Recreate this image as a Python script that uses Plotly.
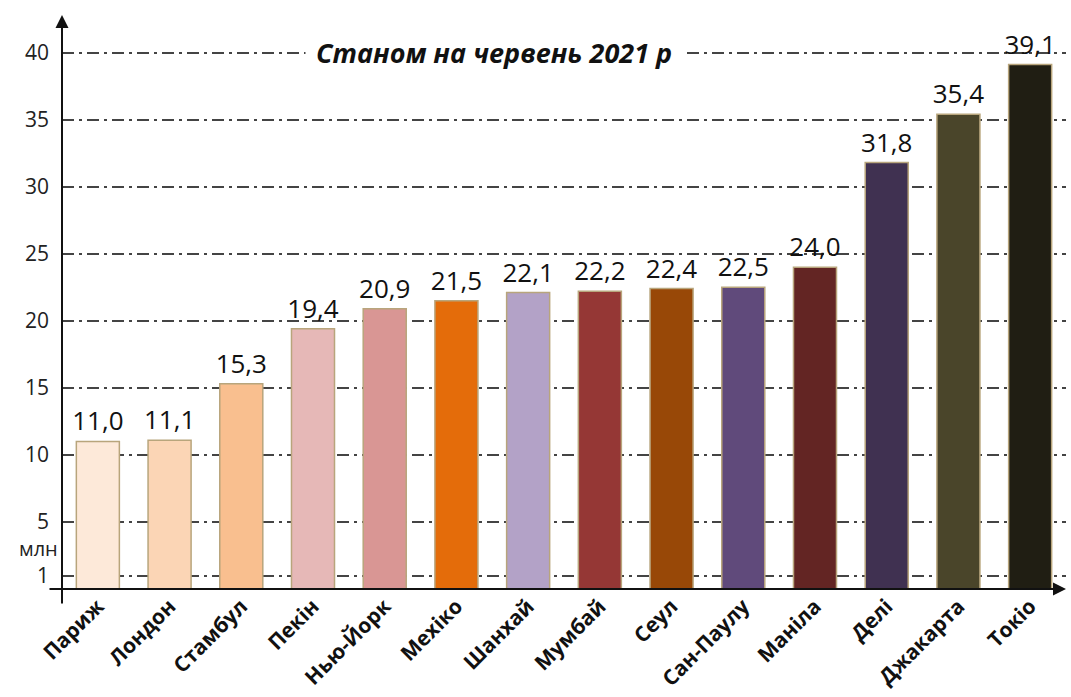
import plotly.graph_objects as go

# Largest urban agglomerations, population in millions (June 2021)
cities = ["Париж", "Лондон", "Стамбул", "Пекін", "Нью-Йорк", "Мехіко", "Шанхай",
          "Мумбай", "Сеул", "Сан-Паулу", "Маніла", "Делі", "Джакарта", "Токіо"]
population = [11.0, 11.1, 15.3, 19.4, 20.9, 21.5, 22.1, 22.2, 22.4, 22.5, 24.0, 31.8, 35.4, 39.1]
bar_colors = ["#fde9d9", "#fbd5b5", "#f9bf8f", "#e6b8b7", "#d99694", "#e46c0a", "#b3a2c7",
              "#953735", "#984807", "#604a7b", "#632523", "#403151", "#4a452a", "#201e13"]
y_ticks = [1, 5, 10, 15, 20, 25, 30, 35, 40]
y_tick_text = ["1", "5", "10", "15", "20", "25", "30", "35", "40"]
title_text = "Станом на червень 2021 р"
unit_text = "млн"

labels = [f"{v:.1f}".replace(".", ",") for v in population]

font_family = "Open Sans"

fig = go.Figure(
    go.Bar(
        x=cities,
        y=population,
        marker=dict(color=bar_colors, line=dict(color="#b8a57c", width=1.5)),
        text=labels,
        textposition="outside",
        constraintext="none",
        textfont=dict(family=font_family, size=26, color="#111111"),
        cliponaxis=False,
        width=0.6,
    )
)

fig.update_layout(
    width=1071,
    height=697,
    margin=dict(l=62, r=5, t=15, b=108),
    paper_bgcolor="white",
    plot_bgcolor="white",
    showlegend=False,
    xaxis=dict(
        range=[-0.5, 13.5],
        tickangle=-45,
        tickfont=dict(family=font_family, size=21, color="#111111", weight="bold"),
        ticklabelstandoff=0,
        showgrid=False,
        showline=False,
        ticks="",
        zeroline=False,
        automargin=False,
    ),
    yaxis=dict(
        range=[0, 42.8],
        tickvals=y_ticks,
        ticktext=y_tick_text,
        tickfont=dict(family=font_family, size=21, color="#222222"),
        ticklabelstandoff=12,
        showgrid=True,
        gridcolor="#444444",
        gridwidth=1.5,
        griddash="12px,5px,3px,5px",
        showline=False,
        zeroline=False,
        ticks="",
        automargin=False,
    ),
)

annotations = [
    # chart caption sitting over the top gridline
    dict(text=f"<b><i>{title_text}</i></b>", xref="paper", yref="y", x=0.43, y=40,
         showarrow=False, font=dict(family=font_family, size=27, color="#111111"),
         bgcolor="white", borderpad=10),
    # unit label on the value axis
    dict(text=unit_text, xref="paper", yref="y", x=0, y=3.0, xanchor="right",
         xshift=-2, showarrow=False, font=dict(family=font_family, size=20, color="#222222")),
    # vertical axis with arrow head
    dict(text="", xref="paper", yref="paper", x=0, y=1.0, ax=0, ay=590,
         axref="pixel", ayref="pixel", showarrow=True, arrowhead=2, arrowsize=1.3,
         arrowwidth=2, arrowcolor="#111111", standoff=0),
    # horizontal axis with arrow head
    dict(text="", xref="paper", yref="paper", x=1.0, y=0, ax=-1018, ay=0,
         axref="pixel", ayref="pixel", showarrow=True, arrowhead=2, arrowsize=1.3,
         arrowwidth=2, arrowcolor="#111111", standoff=0),
]
fig.update_layout(annotations=annotations)

fig.write_html("out.html")
